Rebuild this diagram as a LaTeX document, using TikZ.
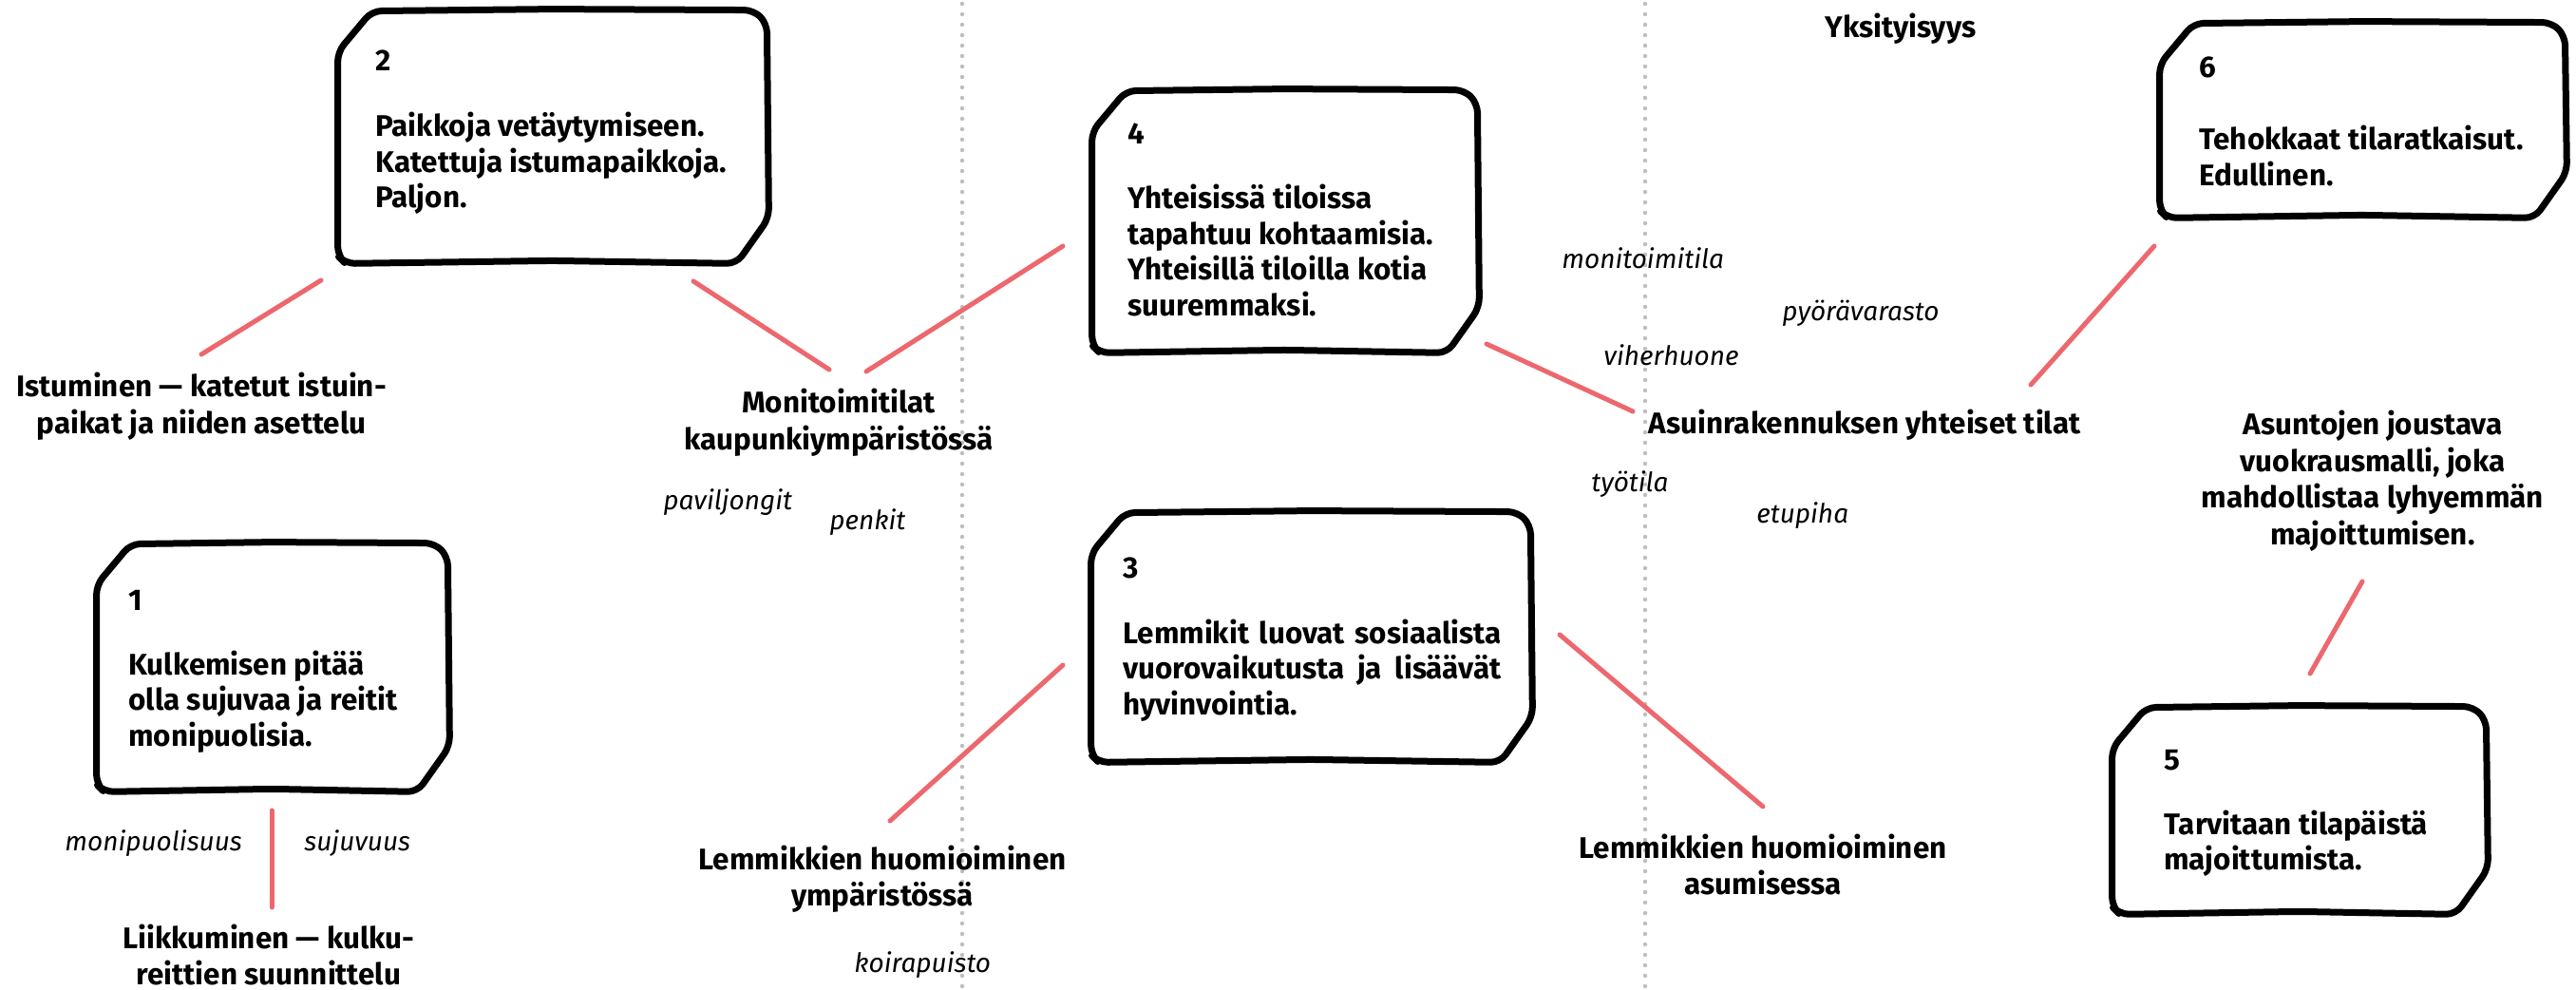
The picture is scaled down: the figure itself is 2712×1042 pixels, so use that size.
\documentclass[tikz,border=0pt]{standalone}
\usepackage{fontspec}
\setmainfont{Fira Sans}
\usetikzlibrary{calc,fit}
\definecolor{linkred}{RGB}{236,104,110}
\definecolor{dotgray}{RGB}{190,190,190}
\tikzset{
  sketch/.style={draw=black, line width=3.5pt, line join=round, line cap=round, rounded corners=5pt},
  link/.style={draw=linkred, line width=2.5pt, line cap=round},
  divider/.style={draw=dotgray, line width=2.2pt, line cap=round, dash pattern=on 0pt off 5.5pt},
  boxnum/.style={anchor=base west, inner sep=0pt, font=\bfseries\fontsize{15.7}{18.75}\selectfont},
  boxtext/.style={anchor=base west, inner sep=0pt, font=\bfseries\fontsize{15.7}{18.75}\selectfont},
  lbl/.style={anchor=base, inner sep=0pt, font=\bfseries\fontsize{15.7}{19.2}\selectfont},
  tag/.style={anchor=base west, inner sep=0pt, font=\itshape\fontsize{14}{17}\selectfont},
}
\newcommand{\sketchbox}[5]{%
  \coordinate (#1nw) at (#2,#3);
  \coordinate (#1se) at (#4,#5);
  \node[fit=(#1nw)(#1se), inner sep=0pt] (#1) {};
  \draw[sketch] ($(#1.north west)+(0,44)$) -- ($(#1.north west)+(36,1)$)
    -- ($(#1.north)+(0,-1)$) -- ($(#1.north east)+(-14,0)$) -- ($(#1.north east)+(0,14)$)
    -- ($(#1.south east)+(2,-48)$) -- ($(#1.south east)+(-32,0)$)
    -- ($(#1.south)+(0,-3)$) -- ($(#1.south west)+(8,0)$) -- ($(#1.south west)+(0,-8)$) -- cycle;
}
\newcommand{\lft}[2]{\parbox[t]{#1}{\raggedright #2}}
\newcommand{\ctr}[1]{\parbox[t]{300pt}{\centering #1}}
\begin{document}
\begin{tikzpicture}[x=0.5pt,y=-0.5pt]
\useasboundingbox (0,0) rectangle (2712,1042);
\fill[white] (0,0) rectangle (2712,1042);

% dotted dividers
\coordinate (d1t) at (1013,4);
\coordinate (d1b) at (1013,1040);
\coordinate (d2t) at (1732,4);
\coordinate (d2b) at (1732,1040);
\draw[divider] (d1t) -- (d1b);
\draw[divider] (d2t) -- (d2b);

% boxes
\sketchbox{b1}{102}{572}{471}{833}
\sketchbox{b2}{356}{11}{807}{277}
\sketchbox{b3}{1149}{539}{1611}{802}
\sketchbox{b4}{1150}{95}{1555}{371}
\sketchbox{b5}{2224}{744}{2617}{962}
\sketchbox{b6}{2274}{24}{2700}{229}

% box texts
\node[boxnum] (b1n) at (135,642) {1};
\node[boxtext] (b1t) at (135,710) {\lft{210pt}{Kulkemisen pitää\\olla sujuvaa ja reitit\\monipuolisia.}};
\node[boxnum] (b2n) at (395,75) {2};
\node[boxtext] (b2t) at (395,144) {\lft{220pt}{Paikkoja vetäytymiseen.\\Katettuja istumapaikkoja.\\Paljon.}};
\node[boxnum] (b3n) at (1182,608) {3};
\node[boxtext] (b3t) at (1182,677) {\parbox[t]{199pt}{Lemmikit luovat sosiaalista\linebreak vuorovaikutusta ja lisäävät\linebreak hyvinvointia.}};
\node[boxnum] (b4n) at (1187,152) {4};
\node[boxtext] (b4t) at (1187,220) {\lft{200pt}{Yhteisissä tiloissa\\tapahtuu kohtaamisia.\\Yhteisillä tiloilla kotia\\suuremmaksi.}};
\node[boxnum] (b5n) at (2278,810) {5};
\node[boxtext] (b5t) at (2278,878) {\lft{180pt}{Tarvitaan tilapäistä\\majoittumista.}};
\node[boxnum] (b6n) at (2315,82) {6};
\node[boxtext] (b6t) at (2315,158) {\lft{190pt}{Tehokkaat tilaratkaisut.\\Edullinen.}};

% bold labels
\node[lbl] (istu) at (212,418) {\ctr{Istuminen — katetut istuin-\\paikat ja niiden asettelu}};
\node[lbl] (liik) at (283,998) {\ctr{Liikkuminen — kulku-\\reittien suunnittelu}};
\node[lbl] (moni) at (883,435) {\ctr{Monitoimitilat\\kaupunkiympäristössä}};
\node[lbl] (lemy) at (929,915) {\ctr{Lemmikkien huomioiminen\\ympäristössä}};
\node[lbl] (lema) at (1856,903) {\ctr{Lemmikkien huomioiminen\\asumisessa}};
\node[lbl] (asui) at (1963,457) {Asuinrakennuksen yhteiset tilat};
\node[lbl] (asun) at (2498,458) {\ctr{Asuntojen joustava\\vuokrausmalli, joka\\mahdollistaa lyhyemmän\\majoittumisen.}};
\node[lbl] (yks) at (2001,40) {Yksityisyys};

% italic tags
\node[tag] (t1) at (698,537) {paviljongit};
\node[tag] (t2) at (873,557) {penkit};
\node[tag] (t3) at (1644,283) {monitoimitila};
\node[tag] (t4) at (1876,338) {pyörävarasto};
\node[tag] (t5) at (1688,385) {viherhuone};
\node[tag] (t6) at (1675,517) {työtila};
\node[tag] (t7) at (1849,550) {etupiha};
\node[tag] (t8) at (68,895) {monipuolisuus};
\node[tag] (t9) at (320,895) {sujuvuus};
\node[tag] (t10) at (899,1023) {koirapuisto};

% connector end points
\coordinate (c1a) at (212,373);  \coordinate (c1b) at (338,295);
\coordinate (c2a) at (730,296);  \coordinate (c2b) at (873,389);
\coordinate (c3a) at (912,391);  \coordinate (c3b) at (1119,259);
\coordinate (c4a) at (1565,362); \coordinate (c4b) at (1719,433);
\coordinate (c5a) at (2138,405); \coordinate (c5b) at (2268,259);
\coordinate (c6a) at (2432,709); \coordinate (c6b) at (2487,612);
\coordinate (c7a) at (937,864);  \coordinate (c7b) at (1119,700);
\coordinate (c8a) at (1642,668); \coordinate (c8b) at (1856,849);
\coordinate (c9a) at (286,853);  \coordinate (c9b) at (286,955);
\draw[link] (c1a) -- (c1b);
\draw[link] (c2a) -- (c2b);
\draw[link] (c3a) -- (c3b);
\draw[link] (c4a) -- (c4b);
\draw[link] (c5a) -- (c5b);
\draw[link] (c6a) -- (c6b);
\draw[link] (c7a) -- (c7b);
\draw[link] (c8a) -- (c8b);
\draw[link] (c9a) -- (c9b);
\end{tikzpicture}
\end{document}
